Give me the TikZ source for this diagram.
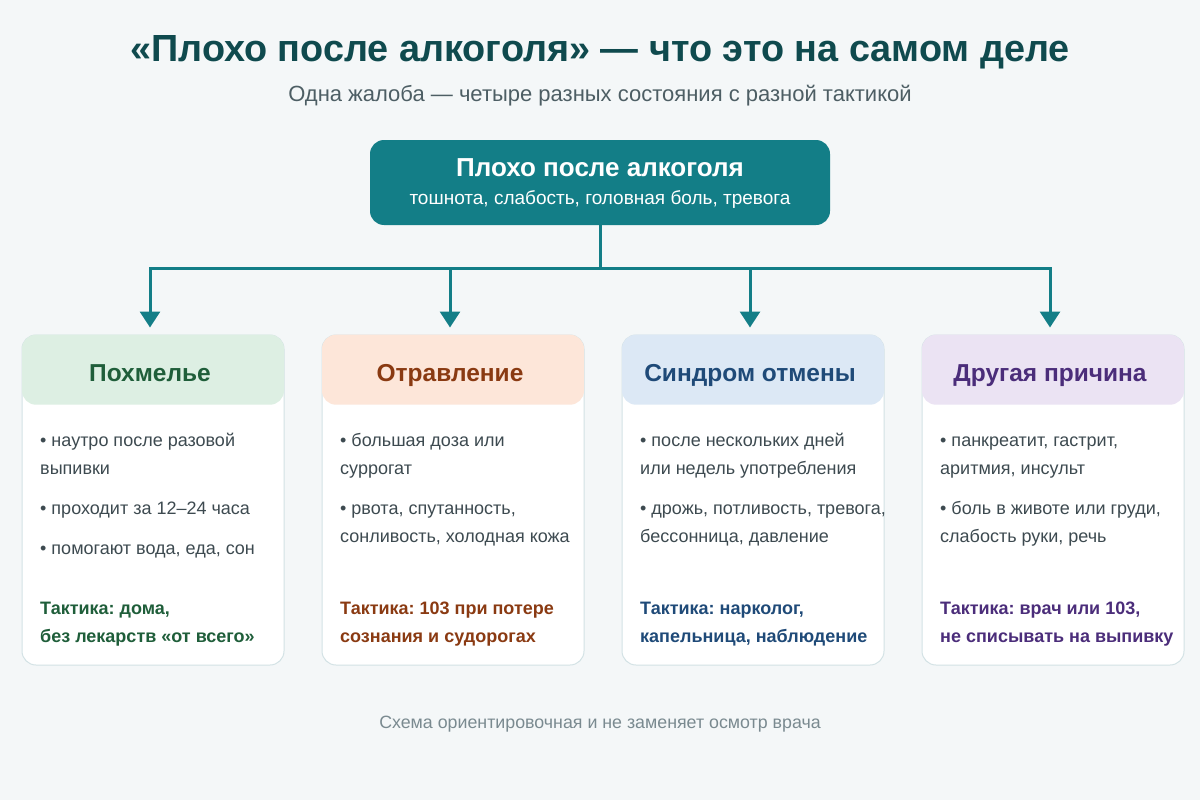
\documentclass[tikz,border=0pt]{standalone}
\usepackage{fontspec}
\setmainfont{Liberation Sans}
\usetikzlibrary{arrows.meta}
\frenchspacing
\definecolor{bg}{HTML}{F4F7F8}
\definecolor{tealc}{HTML}{137E87}
\definecolor{titlec}{HTML}{0F4A4E}
\definecolor{subc}{HTML}{4D5E64}
\definecolor{bodyc}{HTML}{3D4A50}
\definecolor{footc}{HTML}{7A8A90}
\definecolor{cardb}{HTML}{D3E2E5}
\definecolor{hgreen}{HTML}{DDEFE3}
\definecolor{horange}{HTML}{FDE6D9}
\definecolor{hblue}{HTML}{DCE8F5}
\definecolor{hpurple}{HTML}{EBE3F3}
\definecolor{tgreen}{HTML}{1F5E3A}
\definecolor{torange}{HTML}{8A3A12}
\definecolor{tblue}{HTML}{1F4A78}
\definecolor{tpurple}{HTML}{4B2D7A}
\tikzset{
  conn/.style={draw=tealc, line width=3pt},
  arr/.style={conn, -{Triangle[width=20pt,length=16pt]}, shorten >=7pt},
  card/.style={draw=cardb, line width=1pt, fill=white, rounded corners=14pt, minimum width=262pt, minimum height=330pt, inner sep=0pt},
  hdr/.style={rounded corners=14pt, minimum width=262pt, minimum height=70pt, anchor=north, inner sep=0pt},
  hlab/.style={anchor=base, inner sep=0pt, font=\fontsize{24.5}{28}\selectfont\bfseries},
  body/.style={anchor=base west, inner sep=0pt, text=bodyc, font=\fontsize{18}{22}\selectfont},
  tact/.style={anchor=base west, inner sep=0pt, font=\fontsize{18}{22}\selectfont\bfseries},
}
\begin{document}
\begin{tikzpicture}[x=1pt,y=-1pt]
\fill[bg] (0,0) rectangle (1200,800);
\useasboundingbox (0,0) rectangle (1200,800);

\node[text=titlec, font=\fontsize{37.8}{44}\selectfont\bfseries] (title) at (600,52) {«Плохо после алкоголя» — что это на самом деле};
\node[text=subc, font=\fontsize{22}{26}\selectfont] (subtitle) at (600,96) {Одна жалоба — четыре разных состояния с разной тактикой};

\node[fill=tealc, rounded corners=14pt, minimum width=460pt, minimum height=85pt] (top) at (600,182.5) {};
\node[text=white, font=\fontsize{26}{30}\selectfont\bfseries] (toptitle) at (600,168) {Плохо после алкоголя};
\node[text=white, font=\fontsize{19}{22}\selectfont] (topsub) at (600,200) {тошнота, слабость, головная боль, тревога};

% cards
\node[card] (c1) at (153,500) {};
\node[card] (c2) at (453,500) {};
\node[card] (c3) at (753,500) {};
\node[card] (c4) at (1053,500) {};

\node[hdr, fill=hgreen] (h1) at (c1.north) {};
\node[hdr, fill=horange] (h2) at (c2.north) {};
\node[hdr, fill=hblue] (h3) at (c3.north) {};
\node[hdr, fill=hpurple] (h4) at (c4.north) {};
\node[hlab, text=tgreen] (l1) at (150,381) {Похмелье};
\node[hlab, text=torange] (l2) at (450,381) {Отравление};
\node[hlab, text=tblue] (l3) at (750,381) {Синдром отмены};
\node[hlab, text=tpurple] (l4) at (1050,381) {Другая причина};

% connectors
\coordinate (bus) at (600,268);
\coordinate (b1) at (150,268);
\coordinate (b2) at (450,268);
\coordinate (b3) at (750,268);
\coordinate (b4) at (1050,268);
\draw[conn] (top.south) -- (bus);
\draw[conn, line cap=rect] (b1) -- (b4);
\draw[arr] (b1) -- (b1 |- c1.north);
\draw[arr] (b2) -- (b2 |- c2.north);
\draw[arr] (b3) -- (b3 |- c3.north);
\draw[arr] (b4) -- (b4 |- c4.north);

% card 1
\node[body] (t11) at (40,446) {• наутро после разовой};
\node[body] (t12) at (40,474) {выпивки};
\node[body] (t13) at (40,514) {• проходит за 12–24 часа};
\node[body] (t14) at (40,554) {• помогают вода, еда, сон};
\node[tact, text=tgreen] (k11) at (40,614) {Тактика: дома,};
\node[tact, text=tgreen] (k12) at (40,642) {без лекарств «от всего»};

% card 2
\node[body] (t21) at (340,446) {• большая доза или};
\node[body] (t22) at (340,474) {суррогат};
\node[body] (t23) at (340,514) {• рвота, спутанность,};
\node[body] (t24) at (340,542) {сонливость, холодная кожа};
\node[tact, text=torange] (k21) at (340,614) {Тактика: 103 при потере};
\node[tact, text=torange] (k22) at (340,642) {сознания и судорогах};

% card 3
\node[body] (t31) at (640,446) {• после нескольких дней};
\node[body] (t32) at (640,474) {или недель употребления};
\node[body] (t33) at (640,514) {• дрожь, потливость, тревога,};
\node[body] (t34) at (640,542) {бессонница, давление};
\node[tact, text=tblue] (k31) at (640,614) {Тактика: нарколог,};
\node[tact, text=tblue] (k32) at (640,642) {капельница, наблюдение};

% card 4
\node[body] (t41) at (940,446) {• панкреатит, гастрит,};
\node[body] (t42) at (940,474) {аритмия, инсульт};
\node[body] (t43) at (940,514) {• боль в животе или груди,};
\node[body] (t44) at (940,542) {слабость руки, речь};
\node[tact, text=tpurple] (k41) at (940,614) {Тактика: врач или 103,};
\node[tact, text=tpurple] (k42) at (940,642) {не списывать на выпивку};

\node[text=footc, font=\fontsize{17.8}{21}\selectfont] (foot) at (600,724) {Схема ориентировочная и не заменяет осмотр врача};
\end{tikzpicture}
\end{document}
